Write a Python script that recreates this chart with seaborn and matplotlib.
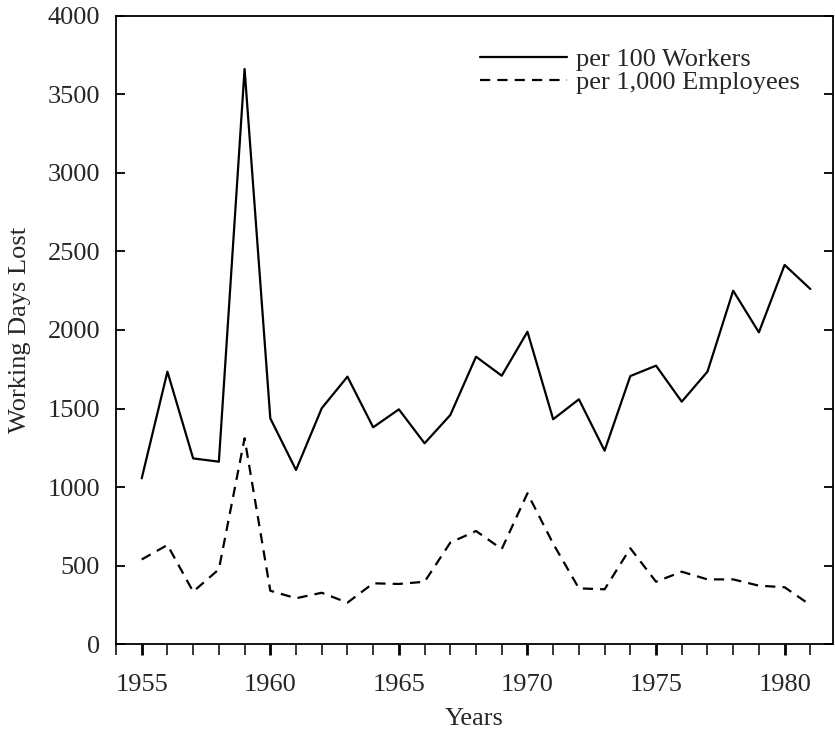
import matplotlib
matplotlib.use("Agg")
import matplotlib.pyplot as plt
from matplotlib.ticker import MultipleLocator
import numpy as np
import pandas as pd
import seaborn as sns

# Annual strike statistics
years = list(range(1955, 1982))
per_100_workers = [1056, 1735, 1183, 1162, 3661, 1438, 1109, 1502, 1703, 1381,
                   1495, 1279, 1459, 1830, 1709, 1989, 1432, 1559, 1232, 1707,
                   1773, 1544, 1735, 2250, 1985, 2414, 2261]
per_1000_employees = [540, 632, 335, 477, 1311, 341, 293, 328, 265, 388,
                      384, 398, 647, 721, 606, 961, 640, 356, 350, 611,
                      398, 462, 413, 413, 373, 363, 250]
series_names = ["per 100 Workers", "per 1,000 Employees"]
y_ticks = [0, 500, 1000, 1500, 2000, 2500, 3000, 3500, 4000]
x_ticks = [1955, 1960, 1965, 1970, 1975, 1980]

sns.set_style("ticks")
plt.rcParams["font.family"] = ["Liberation Serif", "DejaVu Serif"]
plt.rcParams["axes.linewidth"] = 1.3

df = pd.DataFrame({
    "Year": years * 2,
    "Days": per_100_workers + per_1000_employees,
    "Series": [series_names[0]] * len(years) + [series_names[1]] * len(years),
})

fig = plt.figure(figsize=(8.35, 7.3), dpi=100)
ax = fig.add_axes([116 / 835, 1 - 644.3 / 730, (832.7 - 116) / 835, (644.3 - 15.7) / 730])

sns.lineplot(data=df, x="Year", y="Days", style="Series",
             dashes={series_names[0]: "", series_names[1]: (4.6, 3.2)},
             color="black", linewidth=1.6, ax=ax, legend=True)

ax.set_xlim(1954.0, 1981.87)
ax.set_ylim(0, 4000)
ax.set_xticks(x_ticks)
ax.xaxis.set_minor_locator(MultipleLocator(1))
ax.set_yticks(y_ticks)

ax.tick_params(axis="x", which="major", direction="out", length=7.7, width=2.0,
               labelsize=19, pad=13.5, top=False, color="black")
ax.tick_params(axis="x", which="minor", direction="out", length=7.7, width=1.1,
               top=False, color="black")
ax.tick_params(axis="y", which="major", direction="in", length=6.5, width=1.3,
               left=True, right=True, labelsize=19, pad=11.5, color="black")

for s in ax.spines.values():
    s.set_visible(True)
    s.set_color("black")

ax.set_xlabel("Years", fontsize=19, labelpad=9)
ax.set_ylabel("Working Days Lost", fontsize=19, labelpad=12)

handles, labels = ax.get_legend_handles_labels()
ax.legend(handles, labels, loc="upper left",
          bbox_to_anchor=((480 - 116) / (832.7 - 116), 1 - (48 - 15.7) / (644.3 - 15.7)),
          frameon=False, fontsize=19, handlelength=3.3, handletextpad=0.35,
          labelspacing=-0.02, borderpad=0, borderaxespad=0)

fig.savefig("out.png", dpi=100)
